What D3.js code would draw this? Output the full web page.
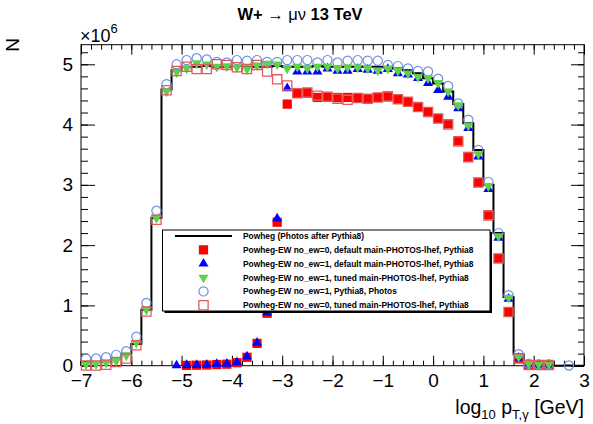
<!DOCTYPE html>
<html>
<head>
<meta charset="utf-8">
<script src="https://cdn.jsdelivr.net/npm/d3@7"></script>
<style>
  body { margin: 0; background: #fff; }
  svg { display: block; }
  text { font-family: "Liberation Sans", Arial, Helvetica, sans-serif; }
</style>
</head>
<body>
<svg id="chart" width="593" height="424"></svg>
<script>
// Bin centres of log10(pT,gamma / GeV), 0.2 wide bins from -7 to 3
const binCenters = [
  -6.9, -6.7, -6.5, -6.3, -6.1, -5.9, -5.7, -5.5, -5.3, -5.1,
  -4.9, -4.7, -4.5, -4.3, -4.1, -3.9, -3.7, -3.5, -3.3, -3.1,
  -2.9, -2.7, -2.5, -2.3, -2.1, -1.9, -1.7, -1.5, -1.3, -1.1,
  -0.9, -0.7, -0.5, -0.3, -0.1, 0.1, 0.3, 0.5, 0.7, 0.9,
  1.1, 1.3, 1.5, 1.7, 1.9, 2.1, 2.3, 2.5, 2.7, 2.9
];

// Event counts per bin, in units of 10^6 (null = empty bin, no marker)
const powhegPhotosAfter = [
  0.06, 0.06, 0.07, 0.12, 0.20, 0.36, 0.93, 2.45, 4.58, 4.90,
  4.96, 4.96, 4.97, 4.96, 4.96, 4.97, 4.96, 4.96, 4.96, 4.97,
  4.96, 4.96, 4.96, 4.97, 4.96, 4.96, 4.96, 4.96, 4.96, 4.96,
  4.95, 4.93, 4.90, 4.85, 4.77, 4.68, 4.55, 4.34, 4.02, 3.58,
  3.00, 2.20, 1.14, 0.19, 0.04, 0.02, 0.02, 0, 0.003, 0
];
const ew0DefaultPhotos = [
  null, null, null, null, null, null, null, null, null, null,
  0.005, 0.008, 0.012, 0.02, 0.025, 0.05, 0.14, 0.37, 0.87, 2.38,
  4.34, 4.52, 4.53, 4.45, 4.46, 4.45, 4.45, 4.44, 4.43, 4.45,
  4.46, 4.42, 4.38, 4.29, 4.21, 4.10, 4.01, 3.73, 3.47, 3.04,
  2.50, 1.78, 0.89, 0.12, 0.01, 0.01, 0.01, null, null, null
];
const ew1DefaultPhotos = [
  null, null, null, null, null, null, null, null, null, 0.004,
  0.01, 0.012, 0.015, 0.025, 0.03, 0.055, 0.15, 0.38, 0.88, 2.44,
  4.60, 4.88, 4.88, 4.88, 4.93, 4.89, 4.89, 4.92, 4.91, 4.89,
  4.92, 4.85, 4.83, 4.77, 4.69, 4.57, 4.46, 4.27, 3.94, 3.47,
  2.93, 2.12, 1.11, 0.13, 0.015, 0.01, 0.01, null, null, null
];
const ew1TunedPhotos = [
  0.02, 0.03, 0.05, 0.08, 0.17, 0.38, 0.93, 2.45, 4.55, 4.87,
  4.93, 5.02, 5.00, 4.96, 4.97, 4.95, 4.92, 4.98, 5.01, 5.00,
  4.93, 4.96, 4.93, 4.96, 4.96, 4.93, 4.95, 4.95, 4.93, 4.90,
  4.93, 4.89, 4.85, 4.79, 4.77, 4.69, 4.55, 4.32, 3.98, 3.51,
  2.98, 2.15, 1.13, 0.15, 0.03, 0.02, 0.02, null, null, null
];
const ew1Pythia8Photos = [
  0.12, 0.12, 0.14, 0.18, 0.24, 0.48, 1.04, 2.57, 4.67, 5.00,
  5.07, 5.10, 5.08, 5.04, 5.03, 5.07, 5.06, 5.07, 5.04, 5.04,
  5.07, 5.07, 5.07, 5.03, 5.07, 5.03, 5.06, 5.07, 5.06, 5.06,
  4.99, 4.97, 4.93, 4.89, 4.88, 4.76, 4.64, 4.35, 4.08, 3.58,
  3.05, 2.20, 1.17, 0.19, 0.03, 0.02, 0.02, null, 0.003, null
];
const ew0TunedPhotos = [
  0.003, 0.003, 0.015, 0.06, 0.12, 0.34, 0.90, 2.42, 4.57, 4.89,
  4.96, 4.92, 4.92, 5.00, 4.99, 4.95, 4.92, 4.99, 4.88, 4.75,
  4.65, 4.52, 4.53, 4.48, 4.46, 4.43, 4.41, 4.44, 4.43, 4.45,
  4.47, 4.42, 4.38, 4.29, 4.21, 4.10, 4.00, 3.72, 3.46, 3.04,
  2.49, 1.78, 0.89, 0.12, 0.01, 0.01, 0.01, null, null, null
];

const xMajorTicks = [-7, -6, -5, -4, -3, -2, -1, 0, 1, 2, 3];
const yMajorTicks = [0, 1, 2, 3, 4, 5];
const yExponent = 6;

const legendLabels = [
  "Powheg (Photos after Pythia8)",
  "Powheg-EW no_ew=0, default main-PHOTOS-lhef, Pythia8",
  "Powheg-EW no_ew=1, default main-PHOTOS-lhef, Pythia8",
  "Powheg-EW no_ew=1, tuned main-PHOTOS-lhef, Pythia8",
  "Powheg-EW no_ew=1, Pythia8, Photos",
  "Powheg-EW no_ew=0, tuned main-PHOTOS-lhef, Pythia8"
];

// ---------------------------------------------------------------
const svg = d3.select("#chart");
svg.append("rect").attr("width", 593).attr("height", 424).attr("fill", "#fff");

const frame = { left: 81, right: 584, top: 44.7, bottom: 365.7 };
const x = d3.scaleLinear([-7, 3], [frame.left, frame.right]);
const y = d3.scaleLinear([0, 5.325], [frame.bottom, frame.top]);

const labelFont = 19;
const minus = s => String(s).replace("-", "\u2212");

// minor tick positions
const xMinor = d3.range(-7, 3.0001, 0.2).map(v => +v.toFixed(2));
const yMinor = d3.range(0, 5.3, 0.2).map(v => +v.toFixed(2));

// bottom axis
svg.append("g").attr("transform", `translate(0,${frame.bottom})`)
  .call(d3.axisBottom(x).tickValues(xMinor).tickSize(-5).tickFormat(""));
svg.append("g").attr("class", "xlab").attr("transform", `translate(0,${frame.bottom})`)
  .call(d3.axisBottom(x).tickValues(xMajorTicks).tickSize(-10).tickPadding(7.5).tickFormat(d => minus(d)));
// top axis
svg.append("g").attr("transform", `translate(0,${frame.top})`)
  .call(d3.axisTop(x).tickValues(xMinor).tickSize(-5).tickFormat(""));
svg.append("g").attr("transform", `translate(0,${frame.top})`)
  .call(d3.axisTop(x).tickValues(xMajorTicks).tickSize(-10).tickFormat(""));
// left axis
svg.append("g").attr("transform", `translate(${frame.left},0)`)
  .call(d3.axisLeft(y).tickValues(yMinor).tickSize(-7).tickFormat(""));
svg.append("g").attr("class", "ylab").attr("transform", `translate(${frame.left},0)`)
  .call(d3.axisLeft(y).tickValues(yMajorTicks).tickSize(-14).tickPadding(8).tickFormat(d => d));
// right axis
svg.append("g").attr("transform", `translate(${frame.right},0)`)
  .call(d3.axisRight(y).tickValues(yMinor).tickSize(-6).tickFormat(""));
svg.append("g").attr("transform", `translate(${frame.right},0)`)
  .call(d3.axisRight(y).tickValues(yMajorTicks).tickSize(-13).tickFormat(""));

svg.selectAll(".domain").remove();
svg.selectAll(".tick line").attr("stroke", "#000").attr("stroke-width", 1);
svg.selectAll(".xlab text, .ylab text")
  .attr("font-size", labelFont).attr("fill", "#000")
  .attr("font-family", "Liberation Sans, Arial, sans-serif");

// frame
svg.append("rect")
  .attr("x", frame.left).attr("y", frame.top)
  .attr("width", frame.right - frame.left).attr("height", frame.bottom - frame.top)
  .attr("fill", "none").attr("stroke", "#000").attr("stroke-width", 1);

// ---------------------------------------------------------------
// reference histogram as a step outline
const halfBin = (binCenters[1] - binCenters[0]) / 2;
const stepPts = [[binCenters[0] - halfBin, 0]];
binCenters.forEach((c, i) => {
  stepPts.push([c - halfBin, powhegPhotosAfter[i]]);
  stepPts.push([c + halfBin, powhegPhotosAfter[i]]);
});
stepPts.push([binCenters[binCenters.length - 1] + halfBin, 0]);
svg.append("path")
  .attr("d", d3.line().x(d => x(d[0])).y(d => y(d[1]))(stepPts))
  .attr("fill", "none").attr("stroke", "#000").attr("stroke-width", 2);

// marker styles
const styles = {
  redFull:  { type: d3.symbolSquare, size: 85, fill: "#ff0000", stroke: "none", rot: 0 },
  blueUp:   { type: d3.symbolTriangle, size: 44, fill: "#0000ff", stroke: "none", rot: 0 },
  greenDn:  { type: d3.symbolTriangle, size: 44, fill: "#5fd04c", stroke: "none", rot: 180 },
  circle:   { type: d3.symbolCircle, size: 66, fill: "none", stroke: "#6f8fdc", rot: 0, sw: 1.2 },
  redOpen:  { type: d3.symbolSquare, size: 85, fill: "none", stroke: "#e05c5c", rot: 0, sw: 1.3 }
};

function drawMarkers(values, st, g) {
  const pts = binCenters.map((c, i) => ({ c, v: values[i] })).filter(d => d.v !== null && d.v > 0);
  g.selectAll("path").data(pts).join("path")
    .attr("d", d3.symbol().type(st.type).size(st.size))
    .attr("transform", d => `translate(${x(d.c)},${y(d.v)}) rotate(${st.rot})`)
    .attr("fill", st.fill).attr("stroke", st.stroke).attr("stroke-width", st.sw || 0);
}

const markers = svg.append("g");
drawMarkers(ew0DefaultPhotos, styles.redFull, markers.append("g"));
drawMarkers(ew1DefaultPhotos, styles.blueUp, markers.append("g"));
drawMarkers(ew1Pythia8Photos, styles.circle, markers.append("g"));
drawMarkers(ew1TunedPhotos, styles.greenDn, markers.append("g"));
drawMarkers(ew0TunedPhotos, styles.redOpen, markers.append("g"));

// ---------------------------------------------------------------
// legend
const leg = { x0: 162.5, y0: 230, x1: 490, y1: 311 };
svg.append("rect").attr("x", leg.x0 + 2).attr("y", leg.y0 + 2)
  .attr("width", leg.x1 - leg.x0).attr("height", leg.y1 - leg.y0).attr("fill", "#000");
svg.append("rect").attr("x", leg.x0).attr("y", leg.y0)
  .attr("width", leg.x1 - leg.x0).attr("height", leg.y1 - leg.y0)
  .attr("fill", "#fff").attr("stroke", "#000").attr("stroke-width", 1);

const rowY = i => 236 + i * 13.85;
const legSym = [null, styles.redFull, styles.blueUp, styles.greenDn, styles.circle, styles.redOpen];
svg.append("line").attr("x1", 175).attr("x2", 232).attr("y1", rowY(0)).attr("y2", rowY(0))
  .attr("stroke", "#000").attr("stroke-width", 2);
legSym.forEach((st, i) => {
  if (!st) return;
  svg.append("path")
    .attr("d", d3.symbol().type(st.type).size(st.size))
    .attr("transform", `translate(203.5,${rowY(i)}) rotate(${st.rot})`)
    .attr("fill", st.fill).attr("stroke", st.stroke).attr("stroke-width", st.sw || 0);
});
svg.append("g").selectAll("text").data(legendLabels).join("text")
  .attr("x", 243).attr("y", (d, i) => rowY(i) + 3)
  .attr("font-size", 8.4).attr("font-weight", "bold").attr("fill", "#000")
  .text(d => d);

// ---------------------------------------------------------------
// titles
const title = svg.append("text").attr("x", 300).attr("y", 20)
  .attr("text-anchor", "middle").attr("font-size", 16.5).attr("fill", "#000");
title.append("tspan").attr("font-weight", "bold").text("W+ ");
title.append("tspan").text("\u2192 \u03bc\u03bd");
title.append("tspan").attr("font-weight", "bold").text(" 13 TeV");

const expo = svg.append("text").attr("x", 80).attr("y", 42).attr("font-size", 18).attr("fill", "#000");
expo.append("tspan").text("\u00d710");
expo.append("tspan").attr("font-size", 13).attr("dy", -9).text(yExponent);

svg.append("text")
  .attr("transform", "translate(19,38) rotate(-90)")
  .attr("text-anchor", "end").attr("font-size", 19).attr("fill", "#000")
  .text("N");

const xt = svg.append("text").attr("x", 584).attr("y", 414)
  .attr("text-anchor", "end").attr("font-size", 19.5).attr("fill", "#000");
xt.append("tspan").text("log");
xt.append("tspan").attr("font-size", 13).attr("dy", 5).text("10");
xt.append("tspan").attr("dy", -5).text(" p");
xt.append("tspan").attr("font-size", 13).attr("dy", 5).text("T,\u03b3");
xt.append("tspan").attr("dy", -5).text(" [GeV]");
</script>
</body>
</html>
